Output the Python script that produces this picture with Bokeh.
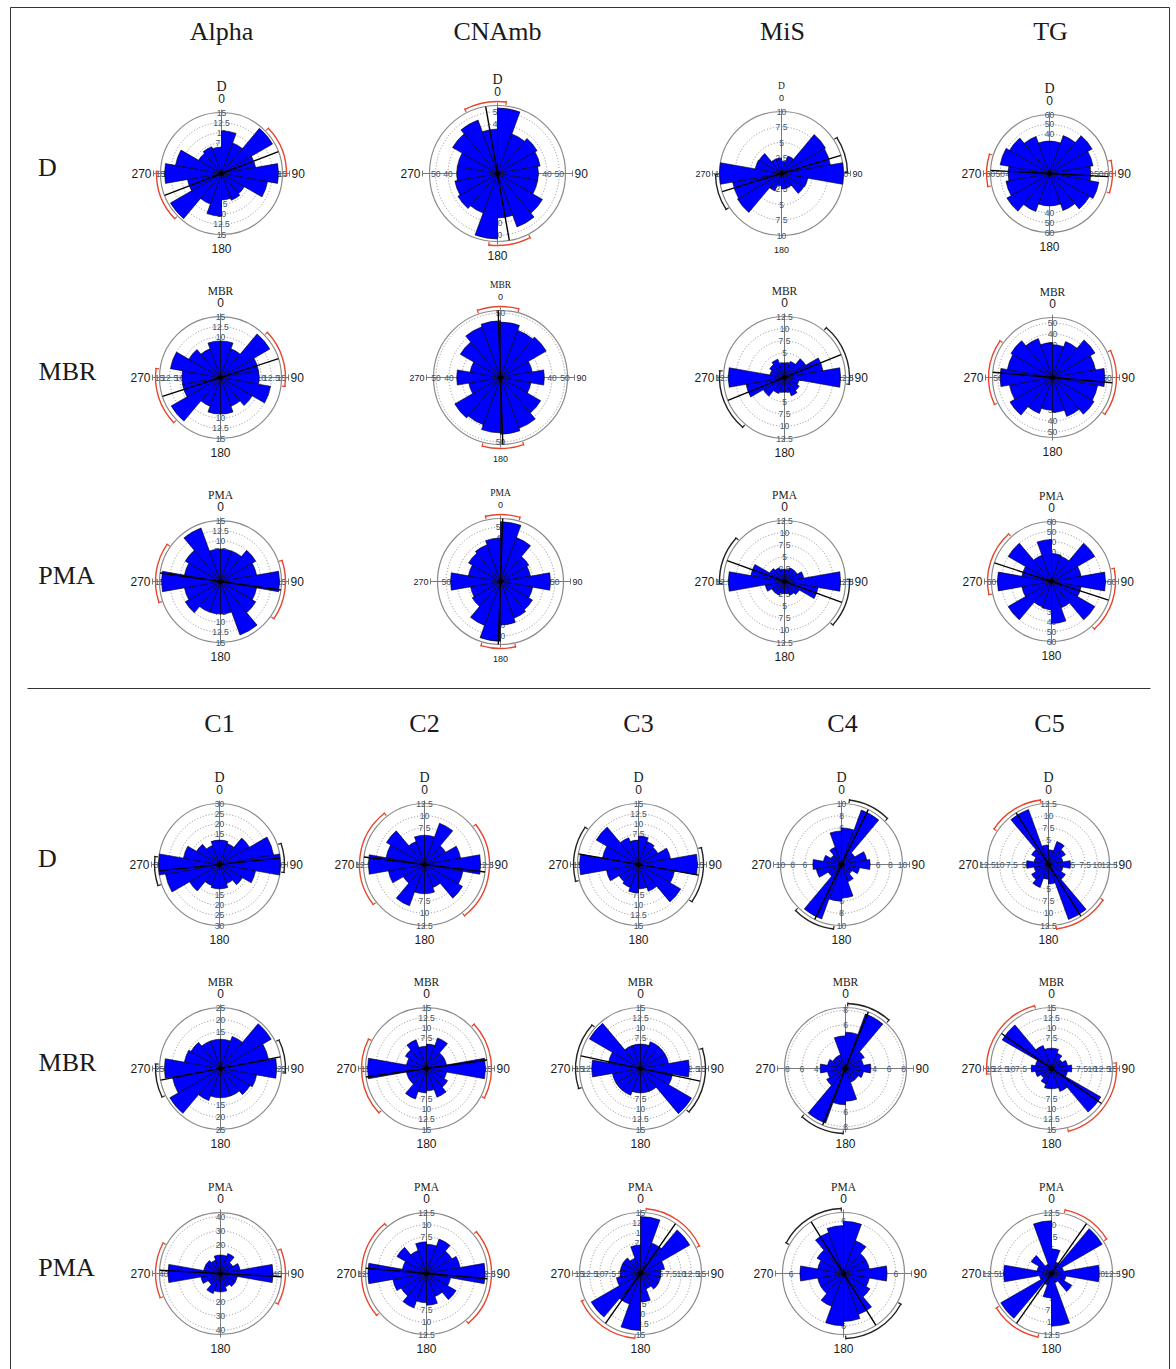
import math
from bokeh.plotting import figure
from bokeh.models import Range1d
from bokeh.embed import file_html
from bokeh.resources import INLINE
from bokeh.core.properties import value

# ---------------- DATA ----------------
# counts per 20-degree bin: 0-20, 20-40, ..., 160-180 (axial data, mirrored to 180-360)
top_groups = ["Alpha", "CNAmb", "MiS", "TG"]
bottom_groups = ["C1", "C2", "C3", "C4", "C5"]
measures = ["D", "MBR", "PMA"]

alpha_d = [10.5, 8, 14.5, 8.5, 14, 11.5, 6.5, 7, 6.5]
alpha_mbr = [9, 7.5, 14, 9.5, 9.5, 12.5, 9, 7.5, 9]
alpha_pma = [8, 8, 10, 9, 14.5, 9, 10, 14, 8]
cnamb_d = [53, 34, 37, 35, 33, 33, 42, 46, 36]
cnamb_mbr = [43, 39, 41, 25, 34, 24, 36, 42, 44]
cnamb_pma = [55, 43, 30, 28, 46, 30, 34, 36, 40]
mis_d = [2, 3, 8.2, 8, 10, 4.3, 4.2, 2.5, 2.5]
mis_mbr = [3, 3.5, 5, 8, 11.5, 3, 3.5, 4, 3]
mis_pma = [2.5, 3, 3, 4, 11.5, 7, 3.5, 3, 2.5]
tg_d = [33, 41, 50, 45, 42, 51, 47, 40, 33]
tg_mbr = [30, 35, 45, 40, 48, 42, 44, 38, 32]
tg_pma = [28, 27, 50, 30, 54, 30, 50, 28, 42]

c1_d = [12, 11, 17, 27, 30, 18, 13, 10, 12]
c2_d = [6, 9, 5, 7.5, 11.5, 8, 9, 5, 6]
c3_d = [7, 6, 5.5, 8, 14.5, 9, 12, 7, 6]
c4_d = [6, 9.5, 2.5, 4.2, 4.7, 3, 2, 3, 5.5]
c5_d = [3, 5, 4, 3, 4.5, 3, 4, 12, 4]
c1_mbr = [12, 14, 24, 20, 23, 15, 14, 12, 12]
c2_mbr = [6, 8, 5, 5, 14.5, 5, 6, 7.5, 5.5]
c3_mbr = [6, 7, 7, 7, 12, 8, 14.5, 6, 6]
c4_mbr = [5, 8, 3, 2.5, 3.5, 2.5, 2, 2, 4.5]
c5_mbr = [5, 4, 3, 4, 5, 4, 14, 6, 5]
c1_pma = [13, 15, 10, 14, 37, 12, 12, 10, 13]
c2_pma = [6, 7.5, 6, 7, 12, 5, 7, 5, 6.5]
c3_pma = [14, 8, 14, 6, 5, 5, 5, 4, 7]
c4_pma = [6, 4, 3, 3, 5, 3, 3.5, 5, 5.5]
c5_pma = [5, 2.5, 12, 2.5, 9.8, 3, 4.8, 2, 10.8]

# radial scale maximum and labelled ring ticks
top_rmax = [[15, 15, 15], [55, 52, 58], [10, 12.5, 12.5], [60, 55, 60]]
top_ticks = [[[5, 7.5, 10, 12.5, 15], [7.5, 10, 12.5, 15], [7.5, 10, 12.5, 15]],
             [[30, 40, 50], [30, 40, 50], [30, 40, 50]],
             [[2.5, 5, 7.5, 10], [2.5, 5, 7.5, 10, 12.5], [2.5, 5, 7.5, 10, 12.5]],
             [[30, 40, 50, 60], [30, 40, 50], [30, 40, 50, 60]]]
bot_rmax = [[30, 25, 43], [12.5, 15, 12.5], [15, 15, 15], [10, 8.4, 7], [12.5, 15, 12.5]]
bot_ticks = [[[15, 20, 25, 30], [15, 20, 25], [10, 20, 30, 40]],
             [[7.5, 10, 12.5], [7.5, 10, 12.5, 15], [7.5, 10, 12.5]],
             [[7.5, 10, 12.5, 15], [7.5, 10, 12.5, 15], [5, 7.5, 10, 12.5, 15]],
             [[6, 8, 10], [4, 6, 8], [2, 4, 6]],
             [[5, 7.5, 10, 12.5], [7.5, 10, 12.5, 15], [5, 7.5, 10, 12.5]]]

# mean axis (degrees from north) and confidence half-width, CI colour code (r=red, k=black)
top_mean = [[69, 72, 98], [350, 178, 2], [73, 68, 110], [93, 95, 108]]
top_ci = [[23, 26, 27], [17, 17, 15], [16, 28, 22], [15, 30, 30]]
top_cic = [["r", "r", "r"], ["r", "r", "r"], ["k", "k", "k"], ["r", "r", "r"]]
bot_mean = [[84, 79, 93], [97, 82, 95], [100, 102, 35], [26, 22, 148], [148, 125, 35]]
bot_ci = [[13, 15, 25], [45, 35, 45], [25, 30, 30], [19, 20, 30], [25, 40, 23]]
bot_cic = [["k", "k", "r"], ["r", "r", "r"], ["k", "k", "r"], ["k", "k", "k"], ["r", "r", "r"]]

top_counts = [[alpha_d, alpha_mbr, alpha_pma], [cnamb_d, cnamb_mbr, cnamb_pma],
              [mis_d, mis_mbr, mis_pma], [tg_d, tg_mbr, tg_pma]]
bot_counts = [[c1_d, c1_mbr, c1_pma], [c2_d, c2_mbr, c2_pma], [c3_d, c3_mbr, c3_pma],
              [c4_d, c4_mbr, c4_pma], [c5_d, c5_mbr, c5_pma]]

# ---------------- LAYOUT ----------------
W, H = 1176, 1369
top_cx = [[221, 220, 220], [497, 500, 500], [781, 784, 784], [1049, 1052, 1051]]
top_cy = [173, 377, 581]
top_R = [[61, 61, 61], [68, 67, 63], [62, 61, 61], [59, 60, 60]]
top_title_x = [221, 497, 782, 1050]
bot_cx = [[219, 220, 220], [424, 426, 426], [638, 640, 640], [841, 845, 843], [1048, 1051, 1051]]
bot_cy = [864, 1068, 1273]
bot_title_x = [219, 424, 638, 842, 1049]
small_lbl = {("CNAmb", 1), ("CNAmb", 2), ("MiS", 0)}

SERIF = value("Liberation Serif")
SANS = value("Liberation Sans")
BLUE = "#0000ff"
RED = "#e8452c"
DARK = "#1a1a1a"


def Y(y):
    return H - y


p = figure(width=W, height=H, x_range=Range1d(0, W), y_range=Range1d(0, H),
           output_backend="svg", toolbar_location=None, min_border=0,
           x_axis_type=None, y_axis_type=None)
p.outline_line_color = None
p.background_fill_color = "white"
p.border_fill_color = "white"

# frame and separator
p.line(x=[10, 10, 1169, 1169], y=[Y(1372), Y(7), Y(7), Y(1372)], line_color="#333333", line_width=1)
p.line(x=[27, 1150], y=[Y(688), Y(688)], line_color="#333333", line_width=1)


def txt(x, y, s, size, font=SANS, align="center", baseline="middle", color=DARK):
    p.text(x=[x], y=[y], text=[s], text_font=font, text_font_size=size,
           text_align=align, text_baseline=baseline, text_color=color)


def rose(cx, cy, R, rmax, ticks, counts, mean, ci, cic, name, small):
    X0, Y0 = cx, Y(cy)
    k = R / rmax
    # rings
    inner = [t for t in ticks if t < rmax - 1e-9]
    p.circle(x=[X0] * len(inner), y=[Y0] * len(inner), radius=[t * k for t in inner],
             fill_color=None, line_color="#8a8a8a", line_dash="1 2", line_width=1)
    p.circle(x=[X0], y=[Y0], radius=[R], fill_color=None, line_color="#8a8a8a", line_width=1.2)
    # axes
    ext = 7
    p.segment(x0=[X0, X0 - R - ext], y0=[Y0 + R + 3, Y0], x1=[X0, X0 + R + ext], y1=[Y0 - R - 3, Y0],
              line_color="#7a7a7a", line_width=1)
    p.segment(x0=[X0 - R - ext, X0 + R + ext], y0=[Y0 - 3, Y0 - 3], x1=[X0 - R - ext, X0 + R + ext],
              y1=[Y0 + 3, Y0 + 3], line_color="#7a7a7a", line_width=1)
    # ring labels
    xs, ys, ts = [], [], []
    for t in ticks:
        r = t * k
        s = f"{t:g}"
        xs += [X0, X0, X0 - r, X0 + r]
        ys += [Y0 + r, Y0 - r, Y0, Y0]
        ts += [s, s, s, s]
    p.text(x=xs, y=ys, text=ts, text_font=SANS, text_font_size="8.5px", text_align="center",
           text_baseline="middle", text_color="#3d5870")
    # wedges (axial: mirror bins)
    full = counts + counts
    starts, ends, rads = [], [], []
    for i, c in enumerate(full):
        b0, b1 = 20 * i, 20 * i + 20
        starts.append(math.radians(90 - b1))
        ends.append(math.radians(90 - b0))
        rads.append(c * k)
    p.wedge(x=[X0] * 18, y=[Y0] * 18, radius=rads, start_angle=starts, end_angle=ends,
            fill_color=BLUE, line_color="black", line_width=0.6)
    p.scatter(x=[X0], y=[Y0], size=4, color="black")
    # mean axis
    m = math.radians(mean)
    p.segment(x0=[X0 - R * math.sin(m)], y0=[Y0 - R * math.cos(m)],
              x1=[X0 + R * math.sin(m)], y1=[Y0 + R * math.cos(m)], line_color="black", line_width=1.4)
    # confidence arcs
    col = RED if cic == "r" else "#222222"
    ra = R + 4
    sa, ea, tx0, ty0, tx1, ty1 = [], [], [], [], [], []
    for base in (mean, mean + 180):
        sa.append(math.radians(90 - (base + ci)))
        ea.append(math.radians(90 - (base - ci)))
        for b in (base - ci, base + ci):
            bb = math.radians(b)
            tx0.append(X0 + (ra - 3) * math.sin(bb)); ty0.append(Y0 + (ra - 3) * math.cos(bb))
            tx1.append(X0 + (ra + 1) * math.sin(bb)); ty1.append(Y0 + (ra + 1) * math.cos(bb))
    p.arc(x=[X0, X0], y=[Y0, Y0], radius=[ra, ra], start_angle=sa, end_angle=ea,
          line_color=col, line_width=1.4)
    p.segment(x0=tx0, y0=ty0, x1=tx1, y1=ty1, line_color=col, line_width=1.2)
    # direction labels
    fs = "9px" if small else "12px"
    nfs = "9.5px" if small else ("14px" if name == "D" else "11.5px")
    txt(X0, Y0 + R + 14, "0", fs)
    txt(X0, Y0 + R + 26, name, nfs, font=SERIF)
    txt(X0, Y0 - R - 14, "180", fs)
    txt(X0 - R - 9, Y0, "270", fs, align="right")
    txt(X0 + R + 9, Y0, "90", fs, align="left")


# titles and row labels
for gi, g in enumerate(top_groups):
    txt(top_title_x[gi], Y(31), g, "26px", font=SERIF)
for gi, g in enumerate(bottom_groups):
    txt(bot_title_x[gi], Y(723), g, "26px", font=SERIF)
row_lx = [47, 67, 66]
top_ly = [167, 371, 575]
bot_ly = [858, 1062, 1267]
for mi, mname in enumerate(measures):
    txt(row_lx[mi], Y(top_ly[mi]), mname, "26px", font=SERIF)
    txt(row_lx[mi], Y(bot_ly[mi]), mname, "26px", font=SERIF)

for gi, g in enumerate(top_groups):
    for mi, mname in enumerate(measures):
        rose(top_cx[gi][mi], top_cy[mi], top_R[gi][mi], top_rmax[gi][mi], top_ticks[gi][mi],
             top_counts[gi][mi], top_mean[gi][mi], top_ci[gi][mi], top_cic[gi][mi], mname,
             (g, mi) in small_lbl)

for gi, g in enumerate(bottom_groups):
    for mi, mname in enumerate(measures):
        rose(bot_cx[gi][mi], bot_cy[mi], 61, bot_rmax[gi][mi], bot_ticks[gi][mi],
             bot_counts[gi][mi], bot_mean[gi][mi], bot_ci[gi][mi], bot_cic[gi][mi], mname, False)

open("out.html", "w").write(file_html(p, INLINE))
